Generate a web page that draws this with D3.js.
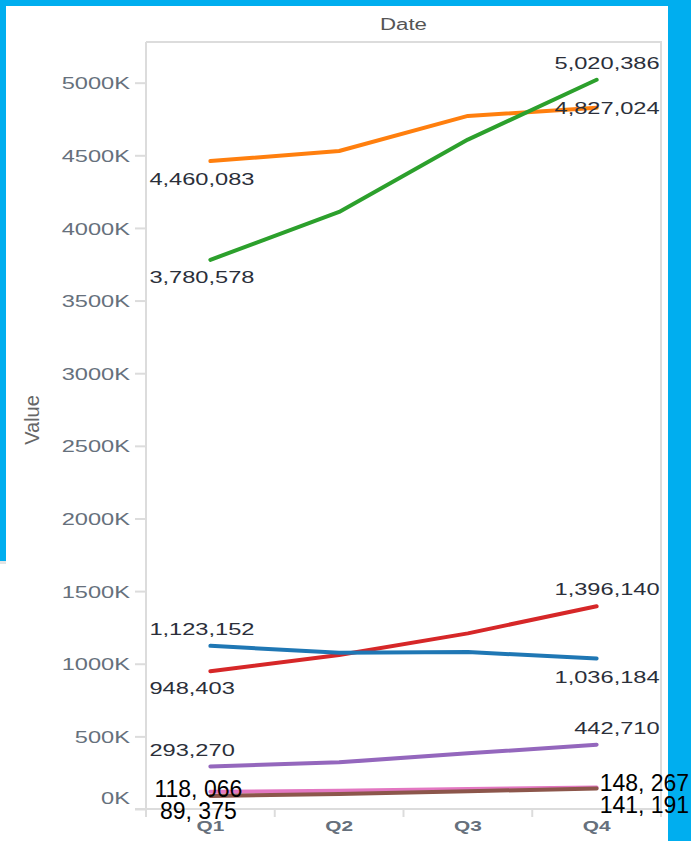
<!DOCTYPE html>
<html>
<head>
<meta charset="utf-8">
<script src="https://cdn.jsdelivr.net/npm/d3@7"></script>
<style>
  html, body { margin: 0; padding: 0; background: #00aeef; }
  svg { display: block; }
  text { font-family: "Liberation Sans", Arial, sans-serif; }
</style>
</head>
<body>
<svg id="chart" width="691" height="841"></svg>
<script>
// Quarterly values per series
const quarters = ["Q1", "Q2", "Q3", "Q4"];
const orangeValues = [4460083, 4530000, 4771000, 4827024];
const greenValues  = [3780578, 4110000, 4608000, 5020386];
const redValues    = [948403, 1060000, 1209000, 1396140];
const blueValues   = [1123152, 1075000, 1080000, 1036184];
const purpleValues = [293270, 321000, 383000, 442710];
const pinkValues   = [118066, 125000, 137000, 148267];
const brownValues  = [89375, 103000, 122000, 141191];
const yTickValues  = [0, 500000, 1000000, 1500000, 2000000, 2500000, 3000000, 3500000, 4000000, 4500000, 5000000];
const yMax = 5280000;

const series = [
  { key: "orange", values: orangeValues, color: "#ff7f0e" },
  { key: "green",  values: greenValues,  color: "#2ca02c" },
  { key: "red",    values: redValues,    color: "#d62728" },
  { key: "blue",   values: blueValues,   color: "#1f77b4" },
  { key: "purple", values: purpleValues, color: "#9467bd" },
  { key: "pink",   values: pinkValues,   color: "#e377c2" },
  { key: "brown",  values: brownValues,  color: "#8c564b" }
];

const svg = d3.select("#chart");
const W = 691, H = 841;
const plot = { left: 146, right: 661, top: 42, bottom: 809 };
const SX = 1.39; // horizontal stretch of the chart lettering

// frame: blue backdrop with a white panel
svg.append("rect").attr("width", W).attr("height", H).attr("fill", "#00aeef");
svg.append("rect").attr("x", 6).attr("y", 6).attr("width", 662).attr("height", H - 6).attr("fill", "#fff");
svg.append("rect").attr("x", 0).attr("y", 561).attr("width", 7).attr("height", H - 561).attr("fill", "#fff");
svg.append("rect").attr("x", 0).attr("y", 561).attr("width", 6).attr("height", 3).attr("fill", "#e4e4e4");

const x = d3.scaleBand().domain(quarters).range([plot.left, plot.right]).paddingInner(0).paddingOuter(0);
const xc = q => x(q) + x.bandwidth() / 2;
const y = d3.scaleLinear().domain([0, yMax]).range([plot.bottom, plot.top]);

const gridColor = "#dcdcdc";

// plot border (top and right)
svg.append("path")
  .attr("d", `M${plot.left},${plot.top}H${plot.right}V${plot.bottom}`)
  .attr("fill", "none").attr("stroke", gridColor).attr("stroke-width", 2);

// y axis
const yAxis = svg.append("g").attr("transform", `translate(${plot.left},0)`)
  .call(d3.axisLeft(y).tickValues(yTickValues).tickSize(11).tickPadding(5)
    .tickFormat(d => (d / 1000) + "K"));
yAxis.select(".domain").attr("stroke", gridColor).attr("stroke-width", 2)
  .attr("d", `M0,${plot.top}V${plot.bottom + 8}`);
yAxis.selectAll(".tick line").attr("stroke", gridColor).attr("stroke-width", 2);
yAxis.selectAll(".tick text")
  .attr("x", null).attr("dy", null)
  .attr("transform", d => `translate(-16,${d === 0 ? -12 : 0}) scale(${SX},1)`)
  .attr("dy", "0.36em")
  .attr("fill", "#66707c")
  .style("font-size", "17px");

// x axis
const xAxis = svg.append("g").attr("transform", `translate(0,${plot.bottom})`);
xAxis.append("line").attr("x1", plot.left - 11).attr("x2", plot.right)
  .attr("stroke", gridColor).attr("stroke-width", 2);
const boundaries = quarters.map(q => x(q)).concat([x(quarters[quarters.length - 1]) + x.bandwidth()]);
xAxis.selectAll("line.tick").data(boundaries).join("line")
  .attr("class", "tick")
  .attr("x1", d => d).attr("x2", d => d).attr("y1", 0).attr("y2", 8)
  .attr("stroke", gridColor).attr("stroke-width", 2);
xAxis.selectAll("text.qlabel").data(quarters).join("text")
  .attr("class", "qlabel")
  .attr("transform", d => `translate(${xc(d)},17) scale(${SX},1)`)
  .attr("text-anchor", "middle").attr("dy", "0.36em")
  .attr("fill", "#66707c").style("font-size", "15px").style("font-weight", "bold")
  .text(d => d);

// axis titles
svg.append("text")
  .attr("transform", `translate(${(plot.left + plot.right) / 2},24) scale(${SX},1)`)
  .attr("text-anchor", "middle").attr("dy", "0.36em")
  .attr("fill", "#555").style("font-size", "16px").text("Date");
svg.append("text")
  .attr("transform", `translate(31,420) rotate(-90) scale(1.25,1.3)`)
  .attr("text-anchor", "middle").attr("dy", "0.36em")
  .attr("fill", "#666").style("font-size", "16px").text("Value");

// series lines
const line = d3.line().x((d, i) => xc(quarters[i])).y(d => y(d));
svg.append("g").selectAll("path").data(series).join("path")
  .attr("d", s => line(s.values))
  .attr("fill", "none")
  .attr("stroke", s => s.color)
  .attr("stroke-width", 4)
  .attr("stroke-linecap", "round")
  .attr("stroke-linejoin", "round");

// end-point value labels
const fmt = d3.format(",");
const byKey = Object.fromEntries(series.map(s => [s.key, s]));
const first = quarters[0], last = quarters[quarters.length - 1];
const labelG = svg.append("g");

function endLabel(key, atEnd, offset) {
  const s = byKey[key];
  const v = atEnd ? s.values[s.values.length - 1] : s.values[0];
  const px = atEnd ? xc(last) + 63 : xc(first) - 61;
  labelG.append("text")
    .attr("transform", `translate(${px},${y(v) + offset}) scale(${SX},1)`)
    .attr("text-anchor", atEnd ? "end" : "start")
    .attr("dy", "0.36em")
    .attr("fill", "#2b2f3a")
    .style("font-size", "17px")
    .text(fmt(v));
}
endLabel("green", true, -17);
endLabel("orange", true, 0);
endLabel("orange", false, 18);
endLabel("green", false, 17);
endLabel("blue", false, -16.5);
endLabel("red", false, 17);
endLabel("red", true, -17);
endLabel("blue", true, 18);
endLabel("purple", true, -16.5);
endLabel("purple", false, -16.5);

// labels for the two smallest series
const fmtSpaced = v => fmt(v).replace(/,/g, ", ");
function plainLabel(key, atEnd, baselineOffset) {
  const s = byKey[key];
  const v = atEnd ? s.values[s.values.length - 1] : s.values[0];
  svg.append("text")
    .attr("x", atEnd ? xc(last) + 3 : xc(first) - 12)
    .attr("y", y(v) + baselineOffset)
    .attr("text-anchor", atEnd ? "start" : "middle")
    .attr("fill", "#000")
    .style("font-size", "23px")
    .text(fmtSpaced(v));
}
plainLabel("pink", false, 5);
plainLabel("brown", false, 23);
plainLabel("pink", true, 4);
plainLabel("brown", true, 24.5);
</script>
</body>
</html>
